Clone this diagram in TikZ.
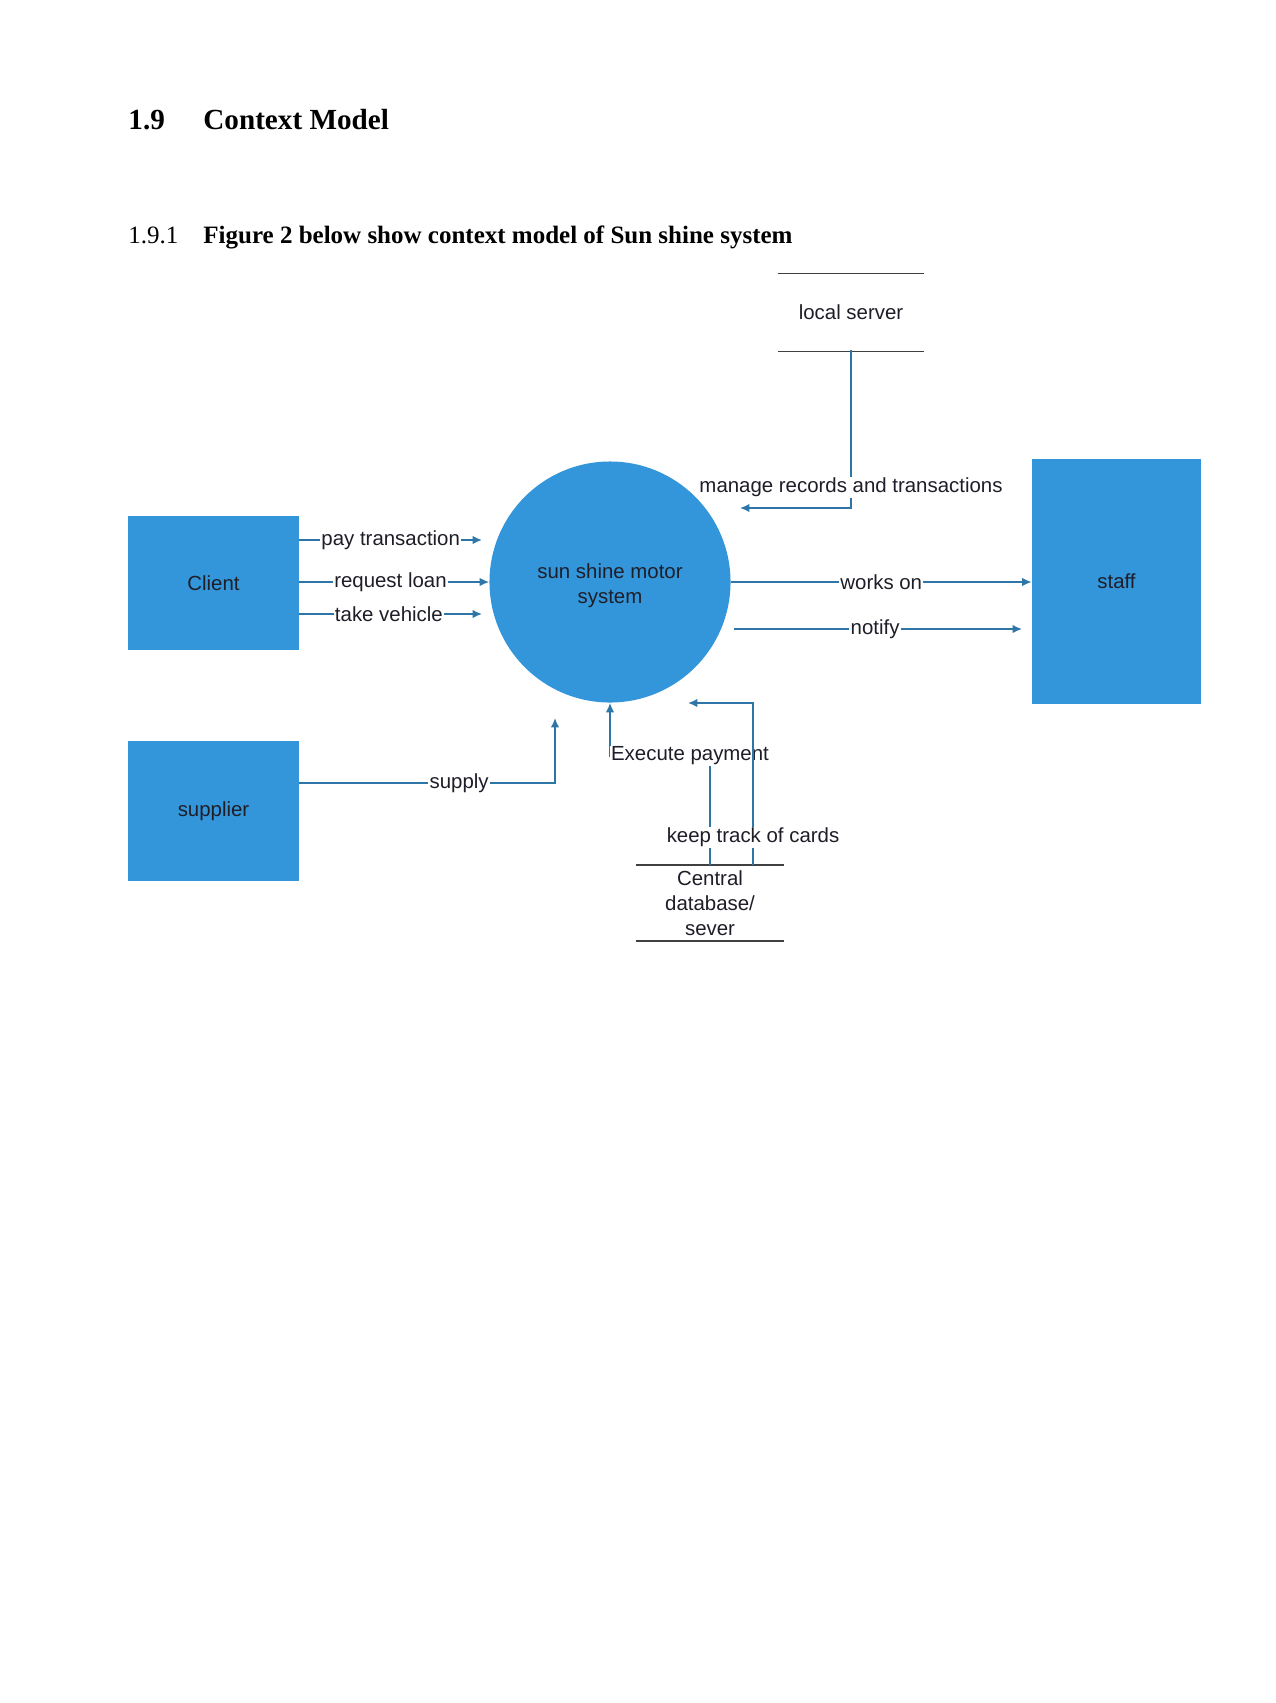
\documentclass[tikz,border=0pt]{standalone}
\usepackage{fontspec}
\setmainfont{Liberation Serif}
\newfontfamily\diag{Liberation Sans}
\usetikzlibrary{arrows.meta}
\definecolor{boxblue}{RGB}{52,150,218}
\definecolor{linkblue}{RGB}{46,117,168}
\definecolor{txt}{RGB}{30,30,40}
\begin{document}
\begin{tikzpicture}[x=0.48pt,y=-0.48pt,
  dfont/.style={font=\diag\fontsize{9.8}{12}\selectfont},
  entity/.style={fill=boxblue, draw=none, dfont, text=txt, inner sep=0pt},
  conn/.style={draw=linkblue, line width=0.7pt, -{Latex[length=4.5pt,width=4pt]}},
  lab/.style={fill=white, inner sep=0.6pt, dfont, text=txt},
  store/.style={dfont, text=txt, inner sep=0pt, align=center},
  storeline/.style={draw=black!75, line width=0.8pt}]
\useasboundingbox (0,0) rectangle (1275,1703);
\fill[white] (0,0) rectangle (1275,1703);
% headings
\node[anchor=base west, inner sep=0pt, font=\fontsize{14}{17}\selectfont\bfseries] (h1) at (128,129) {1.9};
\node[anchor=base west, inner sep=0pt, font=\fontsize{14}{17}\selectfont\bfseries] (h1t) at (203,129) {Context Model};
\node[anchor=base west, inner sep=0pt, font=\fontsize{12}{14}\selectfont] (h2) at (128,243) {1.9.1};
\node[anchor=base west, inner sep=0pt, font=\fontsize{12}{14}\selectfont\bfseries] (h2t) at (203,243) {Figure 2 below show context model of Sun shine system};
% entities
\node[entity, minimum width=82.1pt, minimum height=64.3pt] (client) at (213.5,583) {Client};
\node[entity, minimum width=82.1pt, minimum height=67.2pt] (supplier) at (213.5,811) {supplier};
\node[entity, minimum width=81.1pt, minimum height=117.6pt] (staff) at (1116.5,581.5) {staff};
\node[entity, circle, minimum size=115.7pt] (sys) at (610,582) {};
\node[dfont, text=txt, align=center, inner sep=0pt] (systxt) at (610,586) {sun shine motor\\system};
% stores
\node[store, minimum width=70pt, minimum height=36pt] (local) at (851,312.5) {local server};
\draw[storeline] ([yshift=0.5pt]local.north west) -- ([yshift=0.5pt]local.north east);
\draw[storeline] ([yshift=-0.5pt]local.south west) -- ([yshift=-0.5pt]local.south east);
\node[store, minimum width=71pt, minimum height=36pt] (db) at (710,903) {Central\\database/\\sever};
\draw[storeline] (db.north west) -- (db.north east);
\draw[storeline] (db.south west) -- (db.south east);
% free ends
\coordinate (payE) at (482,540);
\coordinate (takeE) at (482,614);
\coordinate (notS) at (734,629);
\coordinate (notE) at (1022,629);
\coordinate (supE) at (555,718);
\coordinate (manE) at (740,508);
\coordinate (keepE) at (688,703);
% client flows
\draw[conn] (client.east |- payE) -- node[lab]{pay transaction} (payE);
\draw[conn] (client.east |- sys.west) -- node[lab, pos=0.48]{request loan} (sys.west);
\draw[conn] (client.east |- takeE) -- node[lab, pos=0.49]{take vehicle} (takeE);
% staff flows
\draw[conn] (sys.east) -- node[lab]{works on} (staff.west |- sys.east);
\draw[conn] (notS) -- node[lab, pos=0.49]{notify} (notE);
% supply
\draw[conn] (supplier.east |- 0,783) -- node[lab, pos=0.625]{supply} (555,783) -- (supE);
% local server
\draw[conn] (local.south) -- node[lab, pos=0.87]{manage records and transactions} (851,508) -- (manE);
% database flows
\draw[conn] (db.north) -- (710,756) -- node[lab, pos=0.2]{Execute payment} (610,756) -- (sys.south);
\draw[conn] (db.north -| 753,0) -- node[lab, pos=0.17]{keep track of cards} (753,703) -- (keepE);
\end{tikzpicture}
\end{document}
